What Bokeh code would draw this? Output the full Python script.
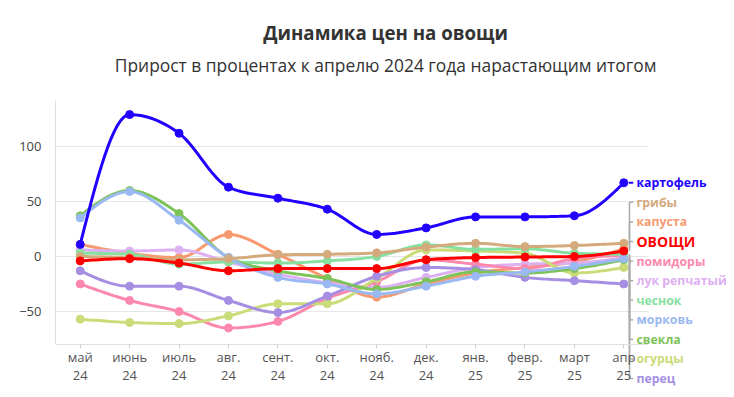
from bokeh.plotting import figure
from bokeh.models import Label, FixedTicker, Range1d
from bokeh.embed import file_html
from bokeh.resources import INLINE

months = ["май\n24", "июнь\n24", "июль\n24", "авг.\n24", "сент.\n24", "окт.\n24",
          "нояб.\n24", "дек.\n24", "янв.\n25", "февр.\n25", "март\n25", "апр\n25"]

potato   = [11, 129, 112, 63, 53, 43, 20, 26, 36, 36, 37, 67]
mushroom = [0, -1, -3, -2, 1.5, 2, 3.3, 8.5, 12, 9, 10, 12]
cabbage  = [11, 3, -1, 20, 2, -20, -37, -25, -15, -10, -5, 7]
veggies  = [-4, -2, -6, -13, -11, -11, -11, -3, -1, -0.5, 0, 5]
tomato   = [-25, -40, -50, -65, -59, -38, -23, -3, -7, -11, -2, 1]
onion    = [6, 5, 6, -5, -16, -24, -28, -19, -10, -7, -6, -1]
garlic   = [3, 2, -7, -5, -6, -4, 0, 10.5, 6.5, 7, 3, 2]
carrot   = [35, 59, 33, -1, -19, -25, -34, -27, -18, -14, -9, -2]
beet     = [37, 60, 39, -1, -13, -20, -30, -23, -14, -15, -11, -3]
cucumber = [-57, -60, -61, -54, -43, -43, -20, 6, 5, 3, -15, -10]
pepper   = [-13, -27, -27, -40, -51, -36, -18, -10, -12, -19, -22, -25]

names = ["картофель", "грибы", "капуста", "ОВОЩИ", "помидоры", "лук репчатый",
         "чеснок", "морковь", "свекла", "огурцы", "перец"]
series = [potato, mushroom, cabbage, veggies, tomato, onion, garlic, carrot, beet, cucumber, pepper]
colors = ["#2200ff", "#d4aa7d", "#f89a70", "#ff0000", "#fc88ad", "#ddb0f2",
          "#86e0a0", "#9ab8f2", "#7dc35a", "#c9dc78", "#a68fe3"]

yticks = [-50, 0, 50, 100]
title_text = "Динамика цен на овощи"
subtitle_text = "Прирост в процентах к апрелю 2024 года нарастающим итогом"


def monotone(xs, ys, n=16):
    """d3 curveMonotoneX style smoothing for drawing the line."""
    m = len(xs)
    h = [xs[i + 1] - xs[i] for i in range(m - 1)]
    s = [(ys[i + 1] - ys[i]) / h[i] for i in range(m - 1)]
    t = [0.0] * m

    def sign(v):
        return (v > 0) - (v < 0)
    for i in range(1, m - 1):
        h0, h1, s0, s1 = h[i - 1], h[i], s[i - 1], s[i]
        p = (s0 * h1 + s1 * h0) / (h0 + h1)
        t[i] = (sign(s0) + sign(s1)) * min(abs(s0), abs(s1), 0.5 * abs(p))
    t[0] = (3 * s[0] - t[1]) / 2
    t[-1] = (3 * s[-1] - t[-2]) / 2
    ox, oy = [], []
    for i in range(m - 1):
        for k in range(n):
            u = k / n
            h00 = 2 * u**3 - 3 * u**2 + 1
            h10 = u**3 - 2 * u**2 + u
            h01 = -2 * u**3 + 3 * u**2
            h11 = u**3 - u**2
            ox.append(xs[i] + u * h[i])
            oy.append(h00 * ys[i] + h10 * h[i] * t[i] + h01 * ys[i + 1] + h11 * h[i] * t[i + 1])
    ox.append(xs[-1])
    oy.append(ys[-1])
    return ox, oy


x = list(range(len(months)))
x_lo, x_hi = -0.5, len(months) - 0.5
y_lo, y_hi = -80, 142

# the frame covers the whole canvas right of the y axis, so that the
# titles and the right-hand labels can be drawn as annotations inside it
p = figure(width=734, height=397, output_backend="svg", toolbar_location=None,
           x_range=Range1d(x_lo, 13.24), y_range=Range1d(-128.2, 232.7),
           min_border_left=55, min_border_right=0, min_border_bottom=0,
           min_border_top=0)
p.outline_line_color = None
p.background_fill_color = "white"
p.border_fill_color = "white"

FONT = "Open Sans"

p.add_layout(Label(x=6.18, y=203.5, text=title_text, text_align="center", text_baseline="middle",
                   text_font=FONT, text_font_size="18.7px", text_font_style="bold",
                   text_color="#333333"))
p.add_layout(Label(x=6.18, y=174.5, text=subtitle_text, text_align="center", text_baseline="middle",
                   text_font=FONT, text_font_size="17.4px", text_color="#333333"))

# horizontal grid lines limited to the data area
p.xgrid.grid_line_color = None
p.ygrid.grid_line_color = None
p.segment(x0=[x_lo] * len(yticks), y0=yticks, x1=[x_hi] * len(yticks), y1=yticks,
          line_color="#e6e6e6", line_width=1)

p.xaxis.fixed_location = y_lo
p.xaxis.ticker = FixedTicker(ticks=x)
p.xaxis.bounds = (x_lo, x_hi)
p.xaxis.major_label_overrides = {i: m for i, m in enumerate(months)}
p.xaxis.axis_line_color = "#e0e0e0"
p.xaxis.major_tick_line_color = "#d0d0d0"
p.xaxis.major_tick_out = 4
p.xaxis.major_tick_in = 0
p.xaxis.minor_tick_line_color = None
p.xaxis.major_label_text_font = FONT
p.xaxis.major_label_text_font_size = "13px"
p.xaxis.major_label_text_color = "#555555"
p.xaxis.major_label_text_line_height = 1.0
p.xaxis.major_label_standoff = 0

p.yaxis.ticker = FixedTicker(ticks=yticks)
p.yaxis.bounds = (y_lo, y_hi)
p.yaxis.axis_line_color = "#e0e0e0"
p.yaxis.major_tick_line_color = None
p.yaxis.minor_tick_line_color = None
p.yaxis.major_label_text_font = FONT
p.yaxis.major_label_text_font_size = "13px"
p.yaxis.major_label_text_color = "#444444"
p.yaxis.major_label_standoff = 8

# draw order: pale series first, then ОВОЩИ, then картофель on top
order = [2, 5, 4, 9, 10, 6, 8, 7, 1, 3, 0]
for i in order:
    sx, sy = monotone(x, series[i])
    p.line(sx, sy, line_color=colors[i], line_width=3, line_alpha=1.0)
    p.scatter(x, series[i], size=8, fill_color=colors[i], line_color=colors[i])

# labels on the right, stacked below the top one
label_x = 11.256
bracket_x = 11.115
tick_end = 11.19
step = 17.8
last = len(months) - 1
for j, name in enumerate(names):
    ly = potato[last] - j * step
    if j > 0:
        vy = series[j][last]
        p.segment(x0=[bracket_x], y0=[vy], x1=[bracket_x], y1=[ly], line_color="#aaaaaa", line_width=1.5)
        p.segment(x0=[bracket_x], y0=[ly], x1=[tick_end], y1=[ly], line_color="#aaaaaa", line_width=1.5)
    else:
        p.segment(x0=[11.1], y0=[ly], x1=[tick_end], y1=[ly], line_color=colors[0], line_width=2)
    lab = Label(x=label_x, y=ly, text=name, text_color=colors[j], text_font=FONT,
                text_font_size="14px" if name == "ОВОЩИ" else "12.3px",
                text_font_style="bold", text_baseline="middle", text_align="left")
    p.add_layout(lab)

open("out.html", "w").write(file_html(p, INLINE))
